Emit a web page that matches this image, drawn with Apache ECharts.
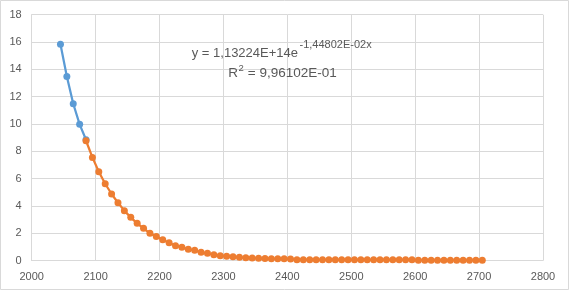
<!DOCTYPE html>
<html>
<head>
<meta charset="utf-8">
<script src="https://cdn.jsdelivr.net/npm/echarts@6/dist/echarts.min.js"></script>
<style>
html,body{margin:0;padding:0;background:#fff;}
#c{width:570px;height:292px;}
</style>
</head>
<body>
<div id="c"></div>
<script>
// Data
const blueX = [2045, 2055, 2065, 2075, 2085];
const blueY = [15.83, 13.48, 11.48, 9.97, 8.84];

const orangeX = [
  2085, 2095, 2105, 2115, 2125, 2135, 2145, 2155, 2165, 2175,
  2185, 2195, 2205, 2215, 2225, 2235, 2245, 2255, 2265, 2275,
  2285, 2295, 2305, 2315, 2325, 2335, 2345, 2355, 2365, 2375,
  2385, 2395, 2405, 2415, 2425, 2435, 2445, 2455, 2465, 2475,
  2485, 2495, 2505, 2515, 2525, 2535, 2545, 2555, 2565, 2575,
  2585, 2595, 2605, 2615, 2625, 2635, 2645, 2655, 2665, 2675,
  2685, 2695, 2705
];
const orangeY = [
  8.77, 7.55, 6.50, 5.62, 4.87, 4.23, 3.65, 3.16, 2.72, 2.36,
  1.99, 1.75, 1.52, 1.30, 1.08, 0.97, 0.82, 0.75, 0.60, 0.53,
  0.42, 0.35, 0.31, 0.28, 0.23, 0.20, 0.18, 0.16, 0.14, 0.13,
  0.12, 0.12, 0.11, 0.06, 0.06, 0.06, 0.05, 0.05, 0.05, 0.05,
  0.05, 0.05, 0.05, 0.05, 0.05, 0.05, 0.05, 0.05, 0.05, 0.05,
  0.05, 0.05, 0.01, 0.01, 0.01, 0.01, 0.01, 0.01, 0.01, 0.01,
  0.01, 0.01, 0.01
];

const xTicks = {min: 2000, max: 2800, interval: 100};
const yTicks = {min: 0, max: 18, interval: 2};

const eqLine1 = 'y = 1,13224E+14e';
const eqExp = '-1,44802E-02x';
const r2Pre = 'R';
const r2Sup = '2';
const r2Post = ' = 9,96102E-01';

const FONT = 'Liberation Sans';
const GRAY = '#595959';
const GRID = '#d9d9d9';

const chart = echarts.init(document.getElementById('c'), null, {renderer: 'canvas'});
chart.setOption({
  animation: false,
  backgroundColor: '#fff',
  grid: {left: 31.7, right: 27, top: 14.7, bottom: 31.5, containLabel: false},
  xAxis: {
    type: 'value', min: xTicks.min, max: xTicks.max, interval: xTicks.interval,
    axisLine: {show: true, lineStyle: {color: GRID, width: 1}},
    axisTick: {show: false},
    splitLine: {show: true, lineStyle: {color: GRID, width: 1}},
    axisLabel: {color: GRAY, fontFamily: FONT, fontSize: 11, margin: 11,
      formatter: v => String(v)}
  },
  yAxis: {
    type: 'value', min: yTicks.min, max: yTicks.max, interval: yTicks.interval,
    axisLine: {show: true, lineStyle: {color: GRID, width: 1}},
    axisTick: {show: false},
    splitLine: {show: true, lineStyle: {color: GRID, width: 1}},
    axisLabel: {color: GRAY, fontFamily: FONT, fontSize: 11, margin: 10,
      formatter: v => String(v)}
  },
  series: [
    {
      type: 'line',
      data: blueX.map((x, i) => [x, blueY[i]]),
      symbol: 'circle', symbolSize: 7,
      lineStyle: {color: '#5B9BD5', width: 2.25},
      itemStyle: {color: '#5B9BD5'},
      z: 2
    },
    {
      type: 'line',
      data: orangeX.map((x, i) => [x, orangeY[i]]),
      symbol: 'circle', symbolSize: 7,
      lineStyle: {color: '#ED7D31', width: 2.25},
      itemStyle: {color: '#ED7D31'},
      z: 3
    }
  ],
  graphic: [
    {
      type: 'rect', silent: true,
      shape: {x: 0.5, y: 0.5, width: 568, height: 289},
      style: {fill: 'none', stroke: GRID, lineWidth: 1}
    },
    {
      type: 'text', silent: true, z: 10,
      x: 298, y: 53.5,
      style: {text: eqLine1, fill: GRAY, font: '13px "' + FONT + '"', align: 'right', verticalAlign: 'middle'}
    },
    {
      type: 'text', silent: true, z: 10,
      x: 299.5, y: 44.5,
      style: {text: eqExp, fill: GRAY, font: '11px "' + FONT + '"', align: 'left', verticalAlign: 'middle'}
    },
    {
      type: 'text', silent: true, z: 10,
      x: 238, y: 73,
      style: {text: r2Pre, fill: GRAY, font: '13.5px "' + FONT + '"', align: 'right', verticalAlign: 'middle'}
    },
    {
      type: 'text', silent: true, z: 10,
      x: 238.5, y: 68.5,
      style: {text: r2Sup, fill: GRAY, font: '9.5px "' + FONT + '"', align: 'left', verticalAlign: 'middle'}
    },
    {
      type: 'text', silent: true, z: 10,
      x: 244, y: 73,
      style: {text: r2Post, fill: GRAY, font: '13.5px "' + FONT + '"', align: 'left', verticalAlign: 'middle'}
    }
  ]
});
</script>
</body>
</html>
